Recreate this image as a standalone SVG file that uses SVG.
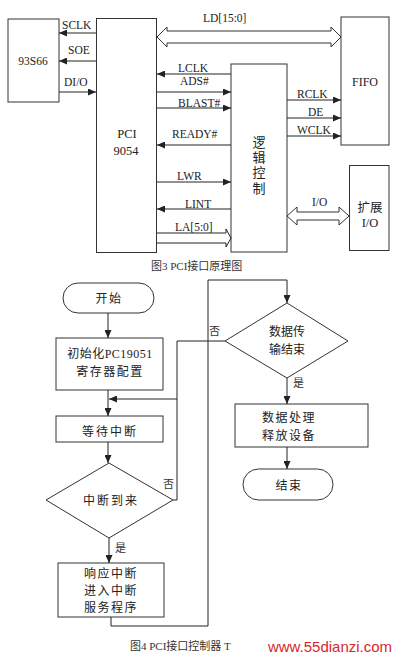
<svg xmlns="http://www.w3.org/2000/svg" width="400" height="659" viewBox="0 0 400 659">
<style>
.b{fill:#fff;stroke:#333;stroke-width:1}
.l{fill:none;stroke:#222;stroke-width:1}
.t{font-family:"Liberation Serif","Noto Sans CJK SC",serif;font-size:11.5px;fill:#222}
.m{text-anchor:middle}
.c{font-family:"Liberation Serif","Noto Sans CJK SC",serif;font-size:12px;fill:#222;text-anchor:middle;letter-spacing:1.5px}
.cap{font-family:"Liberation Serif","Noto Sans CJK SC",serif;font-size:11px;fill:#333}
</style>
<defs>
<marker id="a" markerUnits="userSpaceOnUse" markerWidth="8" markerHeight="7" refX="8" refY="3.5" orient="auto"><path d="M0,0L8,3.5L0,7z" fill="#222"/></marker>
</defs>
<rect width="400" height="659" fill="#fff"/>

<g id="n93s66"><rect class="b" x="8" y="19" width="51" height="83"/><text class="t m" x="33" y="65" font-size="12">93S66</text></g>
<g id="pci9054"><rect class="b" x="96.5" y="18.5" width="60" height="234"/><text class="t m" x="127" y="138" style="font-size:12.5px">PCI</text><text class="t m" x="126" y="155" style="font-size:12.5px">9054</text></g>
<g id="fifo"><rect class="b" x="341" y="17" width="48" height="128"/><text class="t m" x="365" y="86" style="font-size:12px">FIFO</text></g>
<g id="logic"><rect class="b" x="231" y="64" width="56" height="188"/>
<text class="t m" x="259" y="147" style="font-size:13px">逻</text><text class="t m" x="259" y="162" style="font-size:13px">辑</text><text class="t m" x="259" y="177" style="font-size:13px">控</text><text class="t m" x="259" y="193" style="font-size:13px">制</text></g>
<g id="extio"><rect class="b" x="349.5" y="165.5" width="39.5" height="85"/><text class="t m" x="370" y="212" style="font-size:12.5px">扩展</text><text class="t m" x="370" y="227" style="font-size:12.5px">I/O</text></g>

<g id="top-connectors">
<line class="l" x1="96" y1="33" x2="59" y2="33" marker-end="url(#a)"/>
<line class="l" x1="96" y1="61" x2="59" y2="61" marker-end="url(#a)"/>
<line class="l" x1="59" y1="92" x2="96" y2="92" marker-end="url(#a)"/>
<polygon class="b" points="157,37 167,27 167,31 331,31 331,27 341,37 331,47 331,43 167,43 167,47"/>
<line class="l" x1="231" y1="74" x2="157" y2="74" marker-end="url(#a)"/>
<line class="l" x1="157" y1="92" x2="231" y2="92" marker-end="url(#a)"/>
<line class="l" x1="157" y1="108" x2="231" y2="108" marker-end="url(#a)"/>
<line class="l" x1="231" y1="145" x2="157" y2="145" marker-end="url(#a)"/>
<line class="l" x1="157" y1="182" x2="231" y2="182" marker-end="url(#a)"/>
<line class="l" x1="231" y1="209" x2="157" y2="209" marker-end="url(#a)"/>
<polyline class="l" points="157,233 226,233 226,229 231,238 226,247 226,243 157,243"/>
<line class="l" x1="287" y1="100" x2="341" y2="100" marker-end="url(#a)"/>
<line class="l" x1="287" y1="118" x2="341" y2="118" marker-end="url(#a)"/>
<line class="l" x1="287" y1="136" x2="341" y2="136" marker-end="url(#a)"/>
<polygon class="b" points="287,216 297,207 297,212 339,212 339,207 349,216 339,225 339,220 297,220 297,225"/>
</g>
<g id="top-labels">
<text class="t" x="62" y="29">SCLK</text>
<text class="t" x="68" y="54">SOE</text>
<text class="t" x="64" y="86">DI/O</text>
<text class="t" x="203" y="22">LD[15:0]</text>
<text class="t" x="178" y="72">LCLK</text>
<text class="t" x="180" y="85">ADS#</text>
<text class="t" x="178" y="107">BLAST#</text>
<text class="t" x="172" y="138">READY#</text>
<text class="t" x="177" y="180">LWR</text>
<text class="t" x="185" y="208">LINT</text>
<text class="t" x="175" y="231">LA[5:0]</text>
<text class="t" x="297" y="98">RCLK</text>
<text class="t" x="308" y="116">DE</text>
<text class="t" x="297" y="134">WCLK</text>
<text class="t" x="312" y="206">I/O</text>
</g>
<text class="cap" x="151" y="270">图3 PCI接口原理图</text>

<g id="start"><rect class="b" x="63" y="283" width="91" height="30" rx="15"/><text class="c" x="109" y="303">开始</text></g>
<g id="init"><rect class="b" x="56" y="338" width="107" height="52"/><text class="c" x="110" y="358" style="letter-spacing:0.5px">初始化PC19051</text><text class="c" x="110" y="376">寄存器配置</text></g>
<g id="wait"><rect class="b" x="56" y="416" width="107" height="26"/><text class="c" x="110" y="436" style="letter-spacing:2px">等待中断</text></g>
<g id="irq"><polygon class="b" points="109,463 173,500 109,538 46,500"/><text class="c" x="111" y="505" style="letter-spacing:2px">中断到来</text></g>
<g id="isr"><rect class="b" x="58" y="563" width="106" height="54"/><text class="c" x="111" y="578">响应中断</text><text class="c" x="111" y="595">进入中断</text><text class="c" x="111" y="612">服务程序</text></g>
<g id="done"><polygon class="b" points="287,303 348,341 287,378 225,341"/><text class="c" x="287" y="336" style="letter-spacing:0">数据传</text><text class="c" x="287" y="354" style="letter-spacing:0">输结束</text></g>
<g id="proc"><rect class="b" x="235" y="404" width="133" height="43"/><text class="c" x="289" y="422">数据处理</text><text class="c" x="289" y="440">释放设备</text></g>
<g id="end"><rect class="b" x="243" y="469" width="90" height="31" rx="15.5"/><text class="c" x="289" y="490">结束</text></g>

<g id="flow-connectors">
<line class="l" x1="108" y1="313" x2="108" y2="338" marker-end="url(#a)"/>
<line class="l" x1="108" y1="390" x2="108" y2="416" marker-end="url(#a)"/>
<line class="l" x1="108" y1="442" x2="108" y2="463" marker-end="url(#a)"/>
<line class="l" x1="109" y1="538" x2="109" y2="563" marker-end="url(#a)"/>
<polyline class="l" points="225,341 177,341 177,500 173,500"/>
<line class="l" x1="177" y1="399" x2="109" y2="399" marker-end="url(#a)"/>
<polyline class="l" points="111,617 111,626 208,626 208,280 287,280 287,303" marker-end="url(#a)"/>
<line class="l" x1="287" y1="378" x2="287" y2="404" marker-end="url(#a)"/>
<line class="l" x1="287" y1="447" x2="287" y2="469" marker-end="url(#a)"/>
</g>
<g id="flow-labels">
<text class="cap" x="209" y="335">否</text>
<text class="cap" x="163" y="488">否</text>
<text class="cap" x="115" y="552">是</text>
<text class="cap" x="293" y="387">是</text>
</g>
<text class="cap" x="130" y="650">图4 PCI接口控制器 T</text>
<text x="330" y="652" text-anchor="middle" style="font-family:'Liberation Sans',sans-serif;font-size:15px;fill:#d8262c">www.55dianzi.com</text>
</svg>
